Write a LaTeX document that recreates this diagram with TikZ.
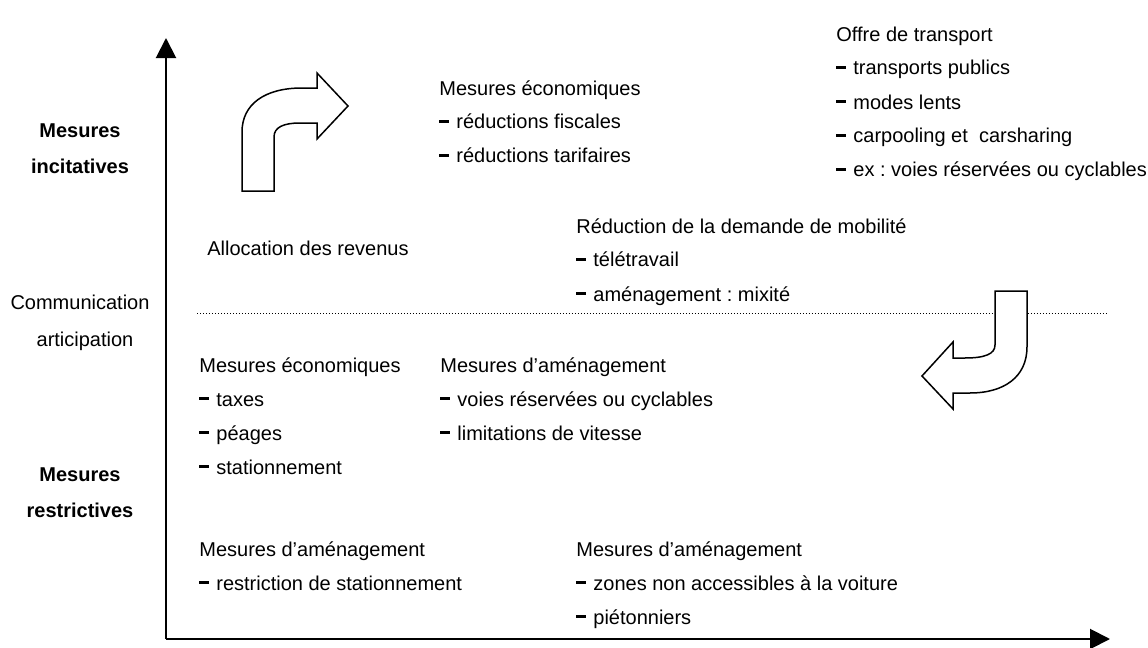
\documentclass[tikz,border=0pt]{standalone}
\usepackage{fontspec}
\setmainfont{Liberation Sans}
\usetikzlibrary{arrows.meta}
\frenchspacing
\newcommand\tiret{\rule[3pt]{5pt}{1.4pt}\hspace{3.5pt}}
\begin{document}
\begin{tikzpicture}[x=0.5pt,y=-0.5pt,
  txt/.style={anchor=base west, inner sep=0pt, font=\fontsize{10}{17}\selectfont},
  lbl/.style={anchor=base, inner sep=0pt, font=\fontsize{10}{18}\selectfont},
  axe/.style={line width=1pt, -{Triangle[width=10pt,length=10pt]}},
  curv/.style={draw=black, fill=white, line width=0.75pt, line join=miter},
  sep/.style={line width=0.5pt, dash pattern=on 0.6pt off 0.9pt}]
\useasboundingbox (0,0) rectangle (1148,648);

% axes
\coordinate (origin) at (166,639);
\coordinate (ytop) at (166,38);
\coordinate (xend) at (1110,639);
\draw[axe] (origin) -- (ytop);
\draw[axe] (origin) -- (xend);

% dotted separator
\coordinate (sepL) at (197,313);
\coordinate (sepR) at (1108,313);
\draw[sep] (sepL) -- (sepR);

% curved arrows
\draw[curv] (242,191) -- (242,132) .. controls (242,104) and (265,88) .. (302,88) -- (317,88)
  -- (317,73) -- (348,106) -- (317,139) -- (317,123) -- (300,123)
  .. controls (284,123) and (274,127) .. (274,137) -- (274,191) -- cycle;
\draw[curv] (995,291) -- (1027,291) -- (1027,347) .. controls (1027,377) and (1004,393) .. (970,393)
  -- (953,393) -- (953,409) -- (922,376) -- (953,342) -- (953,358) -- (965,358)
  .. controls (985,358) and (995,354) .. (995,345) -- cycle;

% left labels
\node[lbl] (incit) at (80,137) {\bfseries\begin{tabular}[t]{@{}c@{}}Mesures\\ incitatives\end{tabular}};
\node[lbl] (comm) at (80,309) {Communication};
\node[lbl] (partic) at (85,346) {articipation};
\node[lbl] (restr) at (80,481) {\bfseries\begin{tabular}[t]{@{}c@{}}Mesures\\ restrictives\end{tabular}};

% text blocks
\node[txt] (offre) at (836,41) {\begin{tabular}[t]{@{}l@{}}Offre de transport\\
  \tiret transports publics\\ \tiret modes lents\\ \tiret carpooling et\ \ carsharing\\
  \tiret ex : voies réservées ou cyclables\end{tabular}};
\node[txt] (ecoinc) at (439,95) {\begin{tabular}[t]{@{}l@{}}Mesures économiques\\
  \tiret réductions fiscales\\ \tiret réductions tarifaires\end{tabular}};
\node[txt] (alloc) at (207,255) {Allocation des revenus};
\node[txt] (reduc) at (576,233) {\begin{tabular}[t]{@{}l@{}}Réduction de la demande de mobilité\\
  \tiret télétravail\\ \tiret aménagement : mixité\end{tabular}};
\node[txt] (ecores) at (199,372) {\begin{tabular}[t]{@{}l@{}}Mesures économiques\\
  \tiret taxes\\ \tiret péages\\ \tiret stationnement\end{tabular}};
\node[txt] (amen1) at (440,372) {\begin{tabular}[t]{@{}l@{}}Mesures d’aménagement\\
  \tiret voies réservées ou cyclables\\ \tiret limitations de vitesse\end{tabular}};
\node[txt] (amen2) at (199,556) {\begin{tabular}[t]{@{}l@{}}Mesures d’aménagement\\
  \tiret restriction de stationnement\end{tabular}};
\node[txt] (amen3) at (576,556) {\begin{tabular}[t]{@{}l@{}}Mesures d’aménagement\\
  \tiret zones non accessibles à la voiture\\ \tiret piétonniers\end{tabular}};
\end{tikzpicture}
\end{document}
